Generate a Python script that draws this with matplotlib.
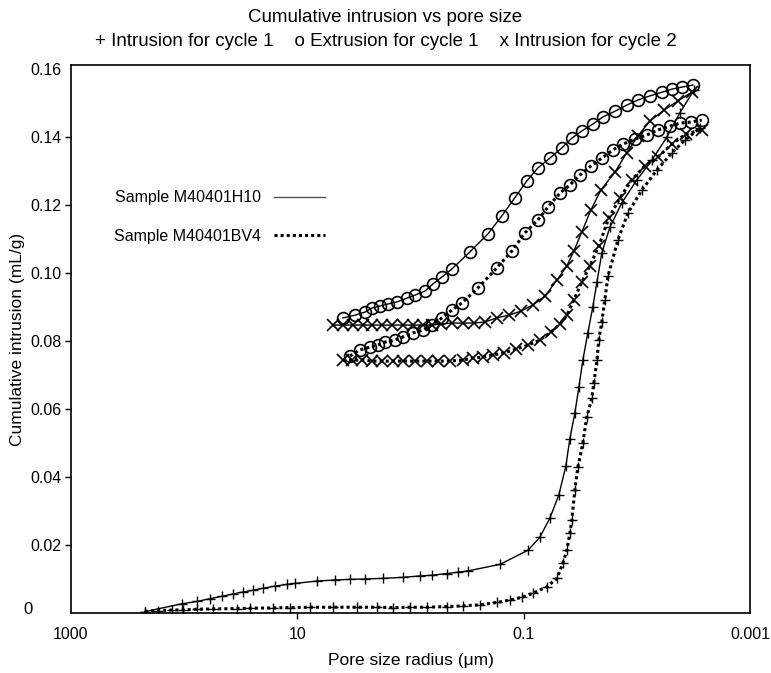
import matplotlib
matplotlib.use("Agg")
import matplotlib.pyplot as plt
from matplotlib.lines import Line2D
from matplotlib.ticker import NullLocator

# ---------------- data (pore radius in micrometres, cumulative intrusion mL/g) -------------
# H10 sample, intrusion cycle 1 (+)
r_h10_int1 = [222, 105, 77.6, 59.2, 46.7, 36.8, 30.1, 24.5, 20.0, 15.8,
              12.4, 10.5, 6.75, 4.66, 3.43, 2.53, 1.74, 1.16, 0.826, 0.652,
              0.480, 0.379, 0.309, 0.162, 0.0912, 0.0719, 0.0587, 0.0489, 0.0424, 0.0391,
              0.0353, 0.0325, 0.0300, 0.0271, 0.0245, 0.0225, 0.0204, 0.0173, 0.0136, 0.0100,
              0.00736, 0.00543, 0.00417, 0.00313]
v_h10_int1 = [0.0004, 0.0027, 0.0034, 0.0042, 0.0049, 0.0056, 0.0062, 0.0067, 0.0073, 0.0079,
              0.0084, 0.0087, 0.0094, 0.0097, 0.0099, 0.0100, 0.0102, 0.0105, 0.0109, 0.0111,
              0.0116, 0.0120, 0.0124, 0.0143, 0.0185, 0.0223, 0.0279, 0.0347, 0.0432, 0.0512,
              0.0588, 0.0665, 0.0744, 0.0824, 0.0900, 0.0974, 0.1059, 0.1135, 0.1206, 0.1274,
              0.1332, 0.1400, 0.1471, 0.1538]

# BV4 sample, intrusion cycle 1 (+)
r_bv4_int1 = [222, 170, 128, 103, 77.1, 55.7, 34.2, 26.2, 16.4, 11.6,
              7.74, 4.85, 2.97, 1.98, 1.43, 1.01, 0.716, 0.477, 0.344, 0.244,
              0.173, 0.132, 0.104, 0.0829, 0.0624, 0.0509, 0.0451, 0.0415, 0.0391, 0.0375,
              0.0353, 0.0332, 0.0300, 0.0277, 0.0250, 0.0240, 0.0225, 0.0217, 0.0204, 0.0192,
              0.0180, 0.0147, 0.0120, 0.00904, 0.00665, 0.00491, 0.00377, 0.00278]
v_bv4_int1 = [0.0004, 0.0007, 0.0009, 0.0009, 0.0011, 0.0012, 0.0013, 0.0014, 0.0015, 0.0016,
              0.0017, 0.0017, 0.0017, 0.0017, 0.0016, 0.0017, 0.0017, 0.0019, 0.0021, 0.0024,
              0.0031, 0.0038, 0.0046, 0.0058, 0.0077, 0.0102, 0.0146, 0.0185, 0.0234, 0.0274,
              0.0362, 0.0429, 0.0500, 0.0576, 0.0632, 0.0676, 0.0744, 0.0803, 0.0856, 0.0921,
              0.0990, 0.1097, 0.1176, 0.1244, 0.1303, 0.1353, 0.1391, 0.1426]

# H10 sample, extrusion cycle 1 (o)
r_h10_ext1 = [3.95, 3.10, 2.53, 2.19, 1.86, 1.58, 1.32, 1.08, 0.914, 0.746,
              0.634, 0.528, 0.431, 0.299, 0.207, 0.156, 0.120, 0.0938, 0.0750, 0.0587,
              0.0460, 0.0375, 0.0306, 0.0245, 0.0200, 0.0156, 0.0123, 0.00980, 0.00767, 0.00601,
              0.00491, 0.00400, 0.00320]
v_h10_ext1 = [0.0868, 0.0876, 0.0885, 0.0897, 0.0903, 0.0909, 0.0915, 0.0926, 0.0935, 0.0947,
              0.0968, 0.0988, 0.1012, 0.1062, 0.1115, 0.1168, 0.1221, 0.1271, 0.1309, 0.1338,
              0.1368, 0.1397, 0.1418, 0.1438, 0.1459, 0.1476, 0.1494, 0.1509, 0.1521, 0.1532,
              0.1541, 0.1547, 0.1553]

# BV4 sample, extrusion cycle 1 (o)
r_bv4_ext1 = [3.43, 2.80, 2.29, 1.94, 1.68, 1.37, 1.17, 0.953, 0.777, 0.647,
              0.528, 0.431, 0.352, 0.254, 0.173, 0.127, 0.0975, 0.0750, 0.0611, 0.0479,
              0.0391, 0.0319, 0.0255, 0.0204, 0.0163, 0.0133, 0.0104, 0.00817, 0.00652, 0.00511,
              0.00417, 0.00333, 0.00267]
v_bv4_ext1 = [0.0756, 0.0774, 0.0782, 0.0788, 0.0797, 0.0803, 0.0812, 0.0824, 0.0832, 0.0847,
              0.0868, 0.0891, 0.0912, 0.0956, 0.1015, 0.1065, 0.1118, 0.1156, 0.1194, 0.1235,
              0.1259, 0.1288, 0.1315, 0.1338, 0.1362, 0.1379, 0.1394, 0.1406, 0.1421, 0.1432,
              0.1441, 0.1444, 0.1450]

# H10 sample, intrusion cycle 2 (x)
r_h10_int2 = [4.85, 3.95, 3.23, 2.63, 2.19, 1.79, 1.46, 1.17, 0.953, 0.777,
              0.647, 0.539, 0.431, 0.344, 0.275, 0.220, 0.173, 0.135, 0.106, 0.0829,
              0.0650, 0.0509, 0.0415, 0.0360, 0.0306, 0.0255, 0.0208, 0.0156, 0.0123, 0.00980,
              0.00767, 0.00577, 0.00434, 0.00327]
v_h10_int2 = [0.0847, 0.0847, 0.0847, 0.0847, 0.0847, 0.0847, 0.0847, 0.0847, 0.0847, 0.0847,
              0.0847, 0.0850, 0.0853, 0.0853, 0.0853, 0.0856, 0.0868, 0.0876, 0.0888, 0.0906,
              0.0932, 0.0979, 0.1021, 0.1065, 0.1121, 0.1185, 0.1244, 0.1297, 0.1353, 0.1403,
              0.1447, 0.1479, 0.1506, 0.1532]

# BV4 sample, intrusion cycle 2 (x)
r_bv4_int2 = [3.95, 3.29, 2.69, 2.19, 1.79, 1.43, 1.17, 0.914, 0.716, 0.573,
              0.449, 0.344, 0.281, 0.229, 0.187, 0.150, 0.117, 0.0912, 0.0719, 0.0575,
              0.0479, 0.0415, 0.0360, 0.0306, 0.0260, 0.0217, 0.0177, 0.0141, 0.0111, 0.00850,
              0.00652, 0.00491, 0.00369, 0.00267]
v_bv4_int2 = [0.0744, 0.0744, 0.0744, 0.0741, 0.0741, 0.0741, 0.0741, 0.0741, 0.0741, 0.0741,
              0.0741, 0.0744, 0.0750, 0.0753, 0.0759, 0.0765, 0.0776, 0.0788, 0.0803, 0.0826,
              0.0850, 0.0876, 0.0921, 0.0974, 0.1021, 0.1079, 0.1162, 0.1221, 0.1274, 0.1315,
              0.1341, 0.1379, 0.1409, 0.1421]

x_ticks = [1000, 10, 0.1, 0.001]
x_tick_labels = ["1000", "10", "0.1", "0.001"]
y_ticks = [0.02, 0.04, 0.06, 0.08, 0.10, 0.12, 0.14, 0.16]
y_tick_labels = ["0.02", "0.04", "0.06", "0.08", "0.10", "0.12", "0.14", "0.16"]
sample_names = ["Sample M40401H10", "Sample M40401BV4"]

title_line1 = "Cumulative intrusion vs pore size"
title_line2 = "+ Intrusion for cycle 1    o Extrusion for cycle 1    x Intrusion for cycle 2"

# ---------------- figure ----------------
FONT = "Liberation Sans"
plt.rcParams["font.family"] = [FONT, "DejaVu Sans"]

W, H = 771, 673
fig = plt.figure(figsize=(W / 100, H / 100), dpi=100)
L, R, T, B = 71, 750, 65, 613
ax = fig.add_axes([L / W, 1 - B / H, (R - L) / W, (B - T) / H])

ax.set_xscale("log")
ax.set_xlim(1000, 0.001)
ax.set_ylim(0, 0.1612)

solid = dict(color="black", lw=1.0, linestyle="-")
dotted = dict(color="black", lw=2.2, linestyle=(0, (1, 1)))
plus = dict(marker="+", ms=7, mew=1.0)
circ = dict(marker="o", ms=8.5, mew=1.2, mfc="none", mec="black")
cross = dict(marker="x", ms=8.5, mew=1.2, mec="black")

ax.plot(r_h10_int1, v_h10_int1, **solid, **plus, mec="black")
ax.plot(r_bv4_int1, v_bv4_int1, **dotted, **plus, mec="black")
ax.plot(r_h10_ext1, v_h10_ext1, **solid, **circ)
ax.plot(r_bv4_ext1, v_bv4_ext1, **dotted, **circ)
ax.plot(r_h10_int2, v_h10_int2, **solid, **cross)
ax.plot(r_bv4_int2, v_bv4_int2, **dotted, **cross)

# axes styling
for s in ax.spines.values():
    s.set_linewidth(1.2)
ax.xaxis.set_minor_locator(NullLocator())
ax.set_xticks(x_ticks)
ax.set_xticklabels(x_tick_labels, fontsize=11.5)
ax.set_yticks(y_ticks)
ax.set_yticklabels(y_tick_labels, fontsize=11.5)
ax.tick_params(axis="both", direction="out", length=4, width=1)
ax.tick_params(axis="x", pad=6)
ax.tick_params(axis="y", pad=3)
xt = ax.xaxis.get_major_ticks()
xt[0].tick1line.set_visible(False)
xt[-1].tick1line.set_visible(False)
ax.yaxis.get_major_ticks()[-1].tick1line.set_visible(False)
fig.text(28 / W, 1 - 610 / H, "0", fontsize=12, ha="center", va="center")

ax.set_xlabel("Pore size radius (\u03bcm)", fontsize=12.5, va="center")
ax.xaxis.set_label_coords(0.5 * (L + R) / W, 1 - 660 / H, transform=fig.transFigure)
ax.set_ylabel("Cumulative intrusion (mL/g)", fontsize=12.5, va="center")
ax.yaxis.set_label_coords(18 / W, 1 - 339 / H, transform=fig.transFigure)

fig.text(0.5, 1 - 18 / H, title_line1, ha="center", va="center", fontsize=13.5)
fig.text(0.5, 1 - 42 / H, title_line2, ha="center", va="center", fontsize=13.5)

handles = [Line2D([], [], color="#555555", lw=1.0),
           Line2D([], [], color="black", lw=2.2, linestyle=(0, (1, 1)))]
ax.legend(handles, sample_names, loc="upper left",
          bbox_to_anchor=(100 / W, 1 - 176 / H), bbox_transform=fig.transFigure,
          frameon=False, markerfirst=False, handlelength=3.2, handletextpad=0.8,
          labelspacing=1.45, fontsize=11.5)

fig.savefig("out.png", dpi=100)
